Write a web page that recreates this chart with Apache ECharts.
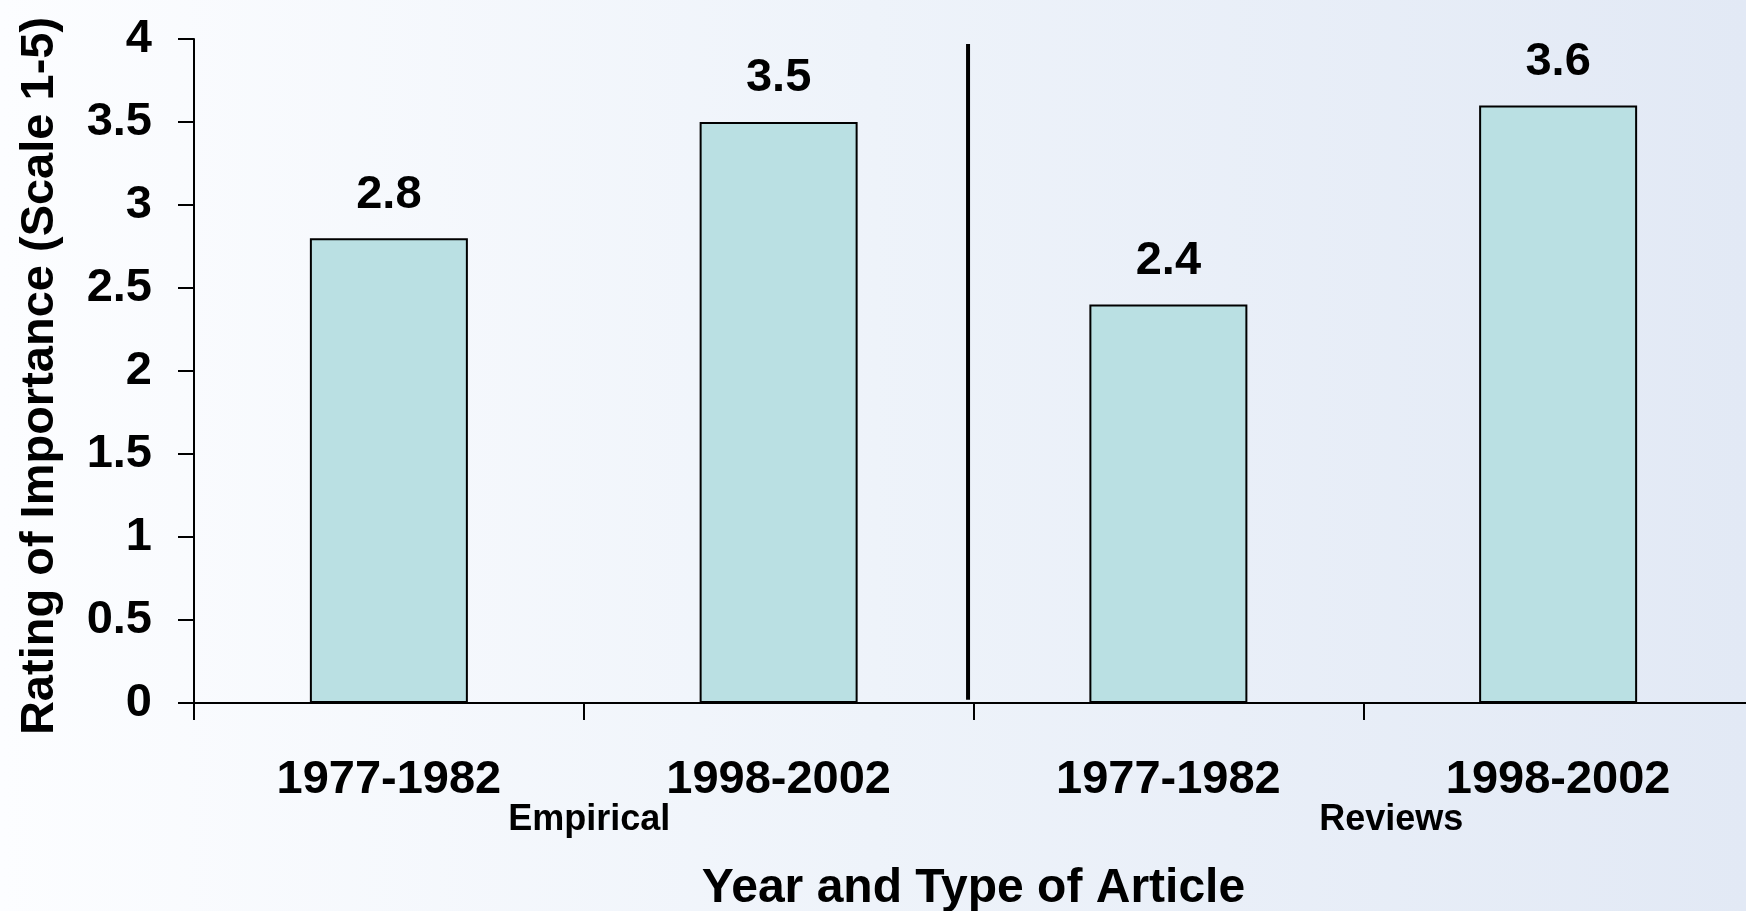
<!DOCTYPE html>
<html>
<head>
<meta charset="utf-8">
<script src="https://cdn.jsdelivr.net/npm/echarts@6/dist/echarts.min.js"></script>
<style>
html,body{margin:0;padding:0;}
#chart{width:1746px;height:911px;}
</style>
</head>
<body>
<div id="chart"></div>
<script>
// ---- data ----
const categories = ['1977-1982', '1998-2002', '1977-1982', '1998-2002'];
const ratings = [2.8, 3.5, 2.4, 3.6];
const groups = ['Empirical', 'Reviews'];
const yTicks = { min: 0, max: 4, interval: 0.5 };
const dividerX = [1.986, 1.986];
const dividerY = [0.02, 3.97];

const FONT = "'Liberation Sans', Arial, sans-serif";
const chart = echarts.init(document.getElementById('chart'), null, { renderer: 'canvas' });

chart.setOption({
  animation: false,
  backgroundColor: {
    type: 'linear', x: 0, y: 0, x2: 1, y2: 0,
    colorStops: [
      { offset: 0, color: '#FCFDFF' },
      { offset: 0.5, color: '#EEF3FA' },
      { offset: 1, color: '#E2E9F5' }
    ]
  },
  textStyle: { fontFamily: FONT },
  grid: { left: 194, right: -7, top: 39, bottom: 208, containLabel: false, outerBoundsMode: 'none' },
  xAxis: [
    {
      type: 'category',
      data: categories,
      boundaryGap: true,
      axisLine: { show: true, lineStyle: { color: '#000', width: 2 } },
      axisTick: { show: true, length: 17, lineStyle: { color: '#000', width: 2 } },
      axisLabel: {
        color: '#000', fontSize: 47, fontWeight: 'bold', fontFamily: FONT,
        margin: 54, lineHeight: 47, interval: 0
      },
      name: 'Year and Type of Article',
      nameLocation: 'middle',
      nameGap: 162,
      nameTextStyle: { color: '#000', fontSize: 48, fontWeight: 'bold', fontFamily: FONT, lineHeight: 48 }
    },
    {
      type: 'category',
      data: groups,
      position: 'bottom',
      gridIndex: 0,
      boundaryGap: true,
      axisLine: { show: false },
      axisTick: { show: false },
      splitLine: { show: false },
      axisLabel: {
        color: '#000', fontSize: 36, fontWeight: 'bold', fontFamily: FONT,
        margin: 99, lineHeight: 36, interval: 0,
        formatter: function (v, i) { return i === 0 ? '{e|' + v + '}' : '{r|' + v + '}'; },
        rich: {
          e: { fontSize: 36, fontWeight: 'bold', fontFamily: FONT, color: '#000', padding: [0, 0, 0, 11] },
          r: { fontSize: 36, fontWeight: 'bold', fontFamily: FONT, color: '#000', padding: [0, 0, 0, 56] }
        }
      }
    },
    {
      type: 'value',
      min: 0, max: 4,
      show: false
    }
  ],
  yAxis: {
    type: 'value',
    min: yTicks.min, max: yTicks.max, interval: yTicks.interval,
    axisLine: { show: true, lineStyle: { color: '#000', width: 2 } },
    axisTick: { show: true, length: 16, lineStyle: { color: '#000', width: 2 } },
    splitLine: { show: false },
    axisLabel: { color: '#000', fontSize: 47, fontWeight: 'bold', fontFamily: FONT, margin: 42 },
    name: 'Rating of Importance (Scale 1-5)',
    nameLocation: 'middle',
    nameRotate: 90,
    nameGap: 130,
    nameTextStyle: { color: '#000', fontSize: 47, fontWeight: 'bold', fontFamily: FONT, lineHeight: 47, padding: [0, 10, 0, 0] }
  },
  series: [
    {
      type: 'bar',
      xAxisIndex: 0,
      data: ratings,
      barWidth: 158,
      itemStyle: { color: '#BAE0E3', borderColor: '#000', borderWidth: 2 },
      label: {
        show: true, position: 'top', distance: 20,
        color: '#000', fontSize: 47, fontWeight: 'bold', fontFamily: FONT,
        formatter: function (p) { return p.value.toFixed(1); }
      }
    },
    {
      type: 'line',
      xAxisIndex: 2,
      data: dividerX.map((x, i) => [x, dividerY[i]]),
      symbol: 'none',
      lineStyle: { color: '#000', width: 4 },
      silent: true
    }
  ]
});
</script>
</body>
</html>
